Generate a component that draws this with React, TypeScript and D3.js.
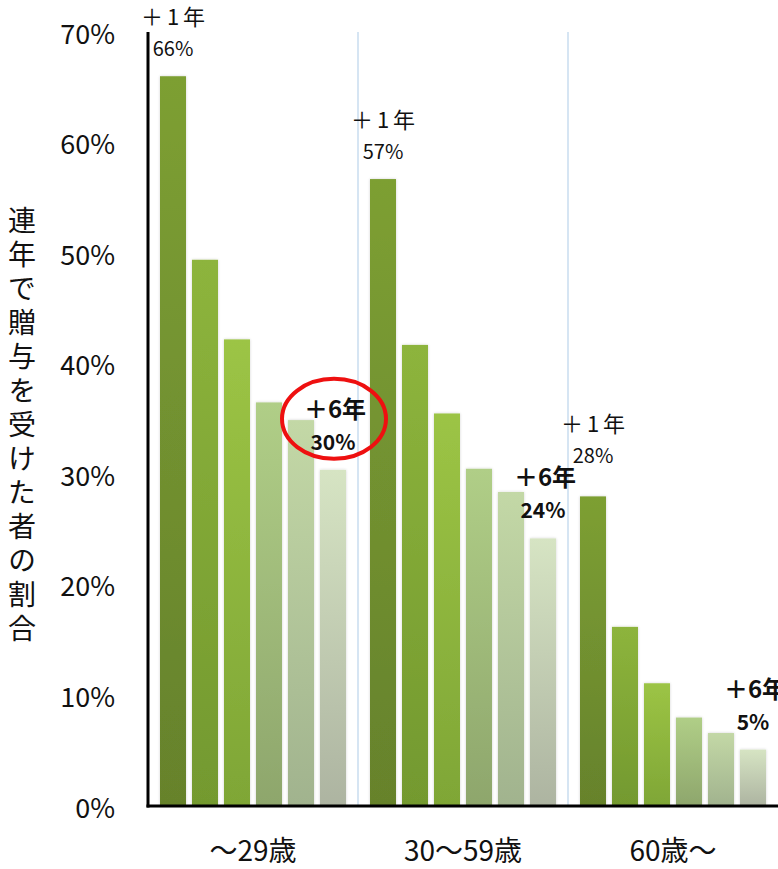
import React from "react";
import * as d3 from "d3";

const groups = ["～29歳", "30～59歳", "60歳～"];
const years = ["+1年", "+2年", "+3年", "+4年", "+5年", "+6年"];
const rateUnder29 = [66, 49.4, 42.2, 36.5, 34.9, 30.4];
const rate30to59 = [56.7, 41.7, 35.5, 30.5, 28.4, 24.2];
const rateOver60 = [28.0, 16.2, 11.1, 8.0, 6.6, 5.1];
const yTicks = [0, 10, 20, 30, 40, 50, 60, 70];
const firstLabels = ["66%", "57%", "28%"];
const lastLabels = ["30%", "24%", "5%"];
const firstLabelLift = [0, 0, 13];
const yTitle = "連年で贈与を受けた者の割合";

const seriesTop = ["#7d9f33", "#8db43c", "#9cc445", "#b0ce87", "#c3d8a6", "#d6e4c3"];
const seriesBottom = ["#66822c", "#73992f", "#7fa636", "#8ea66c", "#a1b38e", "#adb4a1"];

const W = 778;
const H = 869;
const FONT = "'Noto Sans CJK JP', 'Noto Sans', sans-serif";

export default function App() {
  const data = [rateUnder29, rate30to59, rateOver60];
  const x0 = d3.scaleBand<string>().domain(groups).range([148, 778]).padding(0);
  const x1 = d3
    .scaleBand<string>()
    .domain(years)
    .range([0, x0.bandwidth()])
    .paddingInner(0.1875)
    .paddingOuter(0.375);
  const y = d3.scaleLinear().domain([0, 70]).range([806, 32]);

  return (
    <svg
      width={W}
      height={H}
      style={{ position: "absolute", left: 0, top: 0, background: "#fff" }}
      fontFamily={FONT}
    >
      <defs>
        {seriesTop.map((c, i) => (
          <linearGradient key={i} id={`g${i}`} x1="0" y1="0" x2="0" y2="1">
            <stop offset="0%" stopColor={c} />
            <stop offset="100%" stopColor={seriesBottom[i]} />
          </linearGradient>
        ))}
        <filter id="shadow" x="-30%" y="-10%" width="160%" height="120%">
          <feGaussianBlur in="SourceAlpha" stdDeviation="1.5" />
          <feComponentTransfer>
            <feFuncA type="linear" slope="0.18" />
          </feComponentTransfer>
          <feMerge>
            <feMergeNode />
            <feMergeNode in="SourceGraphic" />
          </feMerge>
        </filter>
      </defs>

      {/* group separators */}
      {groups.slice(1).map((g) => (
        <line
          key={g}
          x1={x0(g)!}
          x2={x0(g)!}
          y1={y(70)}
          y2={y(0)}
          stroke="#c9dcef"
          strokeWidth={1.5}
        />
      ))}

      {/* bars */}
      {groups.map((g, gi) =>
        years.map((yr, i) => {
          const v = data[gi][i];
          return (
            <rect
              key={g + yr}
              x={x0(g)! + x1(yr)!}
              y={y(v)}
              width={x1.bandwidth()}
              height={y(0) - y(v)}
              fill={`url(#g${i})`}
              filter="url(#shadow)"
            />
          );
        })
      )}

      {/* axes */}
      <line x1={148} x2={148} y1={y(70)} y2={y(0) + 1.5} stroke="#000" strokeWidth={3} />
      <line x1={146.5} x2={W} y1={y(0)} y2={y(0)} stroke="#000" strokeWidth={3} />

      {yTicks.map((t) => (
        <text
          key={t}
          x={115}
          y={y(t)}
          textAnchor="end"
          dominantBaseline="central"
          fontSize={27}
          fill="#111"
        >
          {t}%
        </text>
      ))}

      {groups.map((g) => (
        <text
          key={g}
          x={x0(g)! + x0.bandwidth() / 2}
          y={861}
          textAnchor="middle"
          fontSize={28}
          fill="#111"
        >
          {g}
        </text>
      ))}

      <text
        x={22}
        y={427}
        textAnchor="middle"
        dominantBaseline="central"
        writingMode="vertical-rl"
        fontSize={28}
        letterSpacing={6}
        fill="#111"
        style={{ writingMode: "vertical-rl" } as any}
      >
        {yTitle}
      </text>

      {/* first-year annotations */}
      {groups.map((g, gi) => {
        const cx = x0(g)! + x1(years[0])! + x1.bandwidth() / 2;
        const top = y(data[gi][0]) - firstLabelLift[gi];
        return (
          <g key={"f" + g}>
            <text
              x={cx + 2}
              y={top - 51}
              textAnchor="middle"
              fontSize={22}
              letterSpacing={4}
              fill="#111"
            >
              ＋1年
            </text>
            <text x={cx} y={top - 20} textAnchor="middle" fontSize={20} fill="#111">
              {firstLabels[gi]}
            </text>
          </g>
        );
      })}

      {/* sixth-year annotations */}
      {groups.map((g, gi) => {
        const cx = x0(g)! + x1(years[5])! + x1.bandwidth() / 2;
        const top = y(data[gi][5]);
        return (
          <g key={"l" + g}>
            <text
              x={cx + 2}
              y={top - 52}
              textAnchor="middle"
              fontSize={24}
              fontWeight="bold"
              fill="#111"
            >
              ＋6年
            </text>
            <text
              x={cx}
              y={top - 20}
              textAnchor="middle"
              fontSize={21}
              fontWeight="bold"
              fill="#111"
            >
              {lastLabels[gi]}
            </text>
          </g>
        );
      })}

      {/* highlight ellipse */}
      {(() => {
        const g = groups[0];
        const cx = x0(g)! + x1(years[5])! + x1.bandwidth() / 2 + 1;
        const cy = y(data[0][5]) - 51;
        return <ellipse cx={cx} cy={cy} rx={52} ry={40} fill="none" stroke="#ee1010" strokeWidth={4} />;
      })()}
    </svg>
  );
}
